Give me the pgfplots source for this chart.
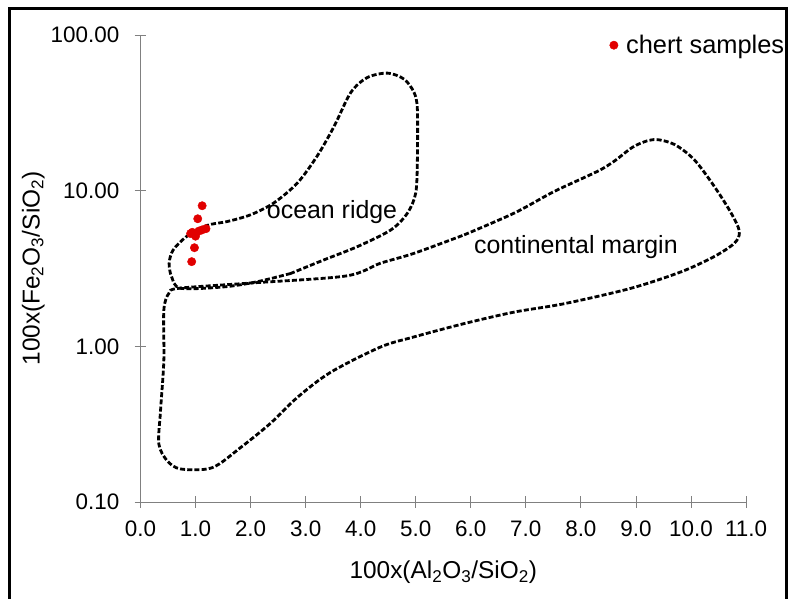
\documentclass[border=0pt]{standalone}
\usepackage{pgfplots}
\pgfplotsset{compat=1.18}
\usepackage{fontspec}
\setmainfont{Liberation Sans}
\definecolor{chert}{RGB}{225,0,0}
\definecolor{axgray}{RGB}{128,128,128}

\begin{document}
\begin{tikzpicture}
\path[use as bounding box] (0,0) rectangle (790bp,599bp);
% outer frame (open at the bottom)
\draw[line width=3bp] (9bp,0) -- (9bp,590bp) -- (786.5bp,590bp) -- (786.5bp,0);

\begin{axis}[
    at={(140.5bp,97bp)}, anchor=south west,
    scale only axis,
    width=605.5bp, height=467bp,
    axis lines*=left,
    axis line style={axgray, line width=0.8bp},
    xmin=0, xmax=11,
    ymode=log, ymin=0.1, ymax=100,
    xtick={0,1,...,11},
    xticklabels={0.0,1.0,2.0,3.0,4.0,5.0,6.0,7.0,8.0,9.0,10.0,11.0},
    ytick={0.1,1,10,100},
    yticklabels={0.10,1.00,10.00,100.00},
    yminorticks=false,
    tick align=center,
    major tick length=12bp,
    tick style={axgray, line width=0.8bp},
    tick label style={font=\fontsize{22.5}{26}\selectfont, inner sep=0pt},
    xticklabel style={anchor=north, yshift=-13bp},
    yticklabel style={anchor=east, xshift=-15bp},
    xlabel={100x(Al\textsubscript{2}O\textsubscript{3}/SiO\textsubscript{2})},
    ylabel={100x(Fe\textsubscript{2}O\textsubscript{3}/SiO\textsubscript{2})},
    label style={font=\fontsize{24.5}{28}\selectfont},
    xlabel style={at={(axis description cs:0.5,-0.15)}, anchor=center},
    ylabel style={at={(axis description cs:-0.177,0.5)}, anchor=center},
    legend style={at={(axis cs:8.52,86)}, anchor=west, draw=none, fill=none,
        font=\fontsize{25.5}{29}\selectfont, inner sep=0pt,
        /tikz/every odd column/.append style={column sep=6bp}},
    legend image code/.code={\draw[#1] plot coordinates {(0bp,0bp)};},
    clip=false,
]
% chert samples
\addplot[only marks, mark=*, mark size=4.2bp, mark options={fill=chert, draw=chert}]
    coordinates {
    (0.91,5.3)(0.94,5.4)(1.00,5.1)(1.06,5.5)(1.12,5.6)
    (1.19,5.7)(1.04,6.6)(1.12,8.0)(0.98,4.3)(0.93,3.5)
    };
\addlegendentry{chert samples}

% ocean ridge field
\addplot[black, line width=2.8bp, dash pattern=on 5bp off 2.2bp, smooth, tension=0.5, forget plot]
    coordinates {
    (2.73,2.94)(2.12,2.60)(1.52,2.41)(0.73,2.36)(0.565,2.80)(0.52,3.42)
    (0.594,4.16)(0.836,5.07)(1.2,5.97)(1.58,6.34)(2.0,7.0)(2.42,8.33)
    (2.85,11.2)(3.21,16.7)(3.52,26.0)(3.82,42.7)(4.12,53.3)(4.49,56.9)
    (4.79,52.0)(4.97,42.7)(5.03,33.3)(5.03,15.8)(5.0,9.66)(4.85,7.18)
    (4.55,5.6)(3.94,4.37)(3.33,3.59)(2.73,2.94)
    };

% continental margin field
\addplot[black, line width=2.8bp, dash pattern=on 5bp off 2.2bp, smooth, tension=0.5, forget plot]
    coordinates {
    (5.88,5.20)(6.79,7.18)(7.52,9.9)(8.30,13.3)(8.61,15.5)(8.97,19.3)
    (9.33,21.3)(9.70,19.8)(10.06,15.8)(10.42,10.7)(10.73,7.18)(10.88,5.46)
    (10.79,4.6)(10.42,3.77)(9.82,3.01)(8.91,2.36)(7.70,1.88)(6.79,1.66)
    (5.88,1.40)(4.97,1.15)(4.36,0.99)(3.45,0.68)(2.85,0.47)(2.36,0.32)
    (1.82,0.224)(1.3,0.166)(0.73,0.163)(0.485,0.184)(0.333,0.236)
    (0.364,0.386)(0.424,0.81)(0.424,1.71)(0.515,2.19)(0.70,2.36)
    (2.0,2.55)(3.73,2.83)(4.36,3.42)(4.97,3.96)(5.88,5.20)
    };

\node[font=\fontsize{25}{29}\selectfont] at (axis cs:3.48,7.33) {ocean ridge};
\node[font=\fontsize{25}{29}\selectfont] at (axis cs:7.91,4.37) {continental margin};
\end{axis}
\end{tikzpicture}
\end{document}
